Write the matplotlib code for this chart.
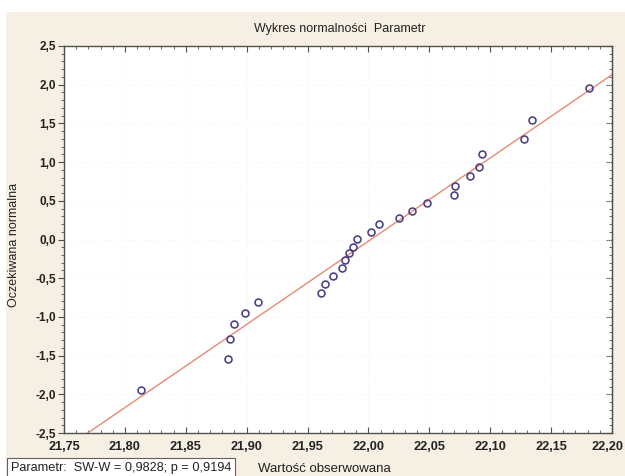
import matplotlib.pyplot as plt
import matplotlib.patches as patches
from matplotlib.ticker import MultipleLocator, FuncFormatter
import numpy as np

plt.rcParams['font.family'] = ['Liberation Sans', 'DejaVu Sans']

# observed values and expected normal values
observed = [21.813, 21.885, 21.886, 21.890, 21.899, 21.909, 21.961, 21.964,
            21.971, 21.978, 21.981, 21.984, 21.987, 21.991, 22.002, 22.009,
            22.025, 22.036, 22.048, 22.070, 22.071, 22.083, 22.091, 22.093,
            22.128, 22.134, 22.181]
expected = [-1.944, -1.540, -1.289, -1.088, -0.946, -0.808, -0.687, -0.579,
            -0.472, -0.372, -0.265, -0.171, -0.093, 0.003, 0.101, 0.200,
            0.282, 0.368, 0.475, 0.571, 0.691, 0.820, 0.941, 1.105,
            1.295, 1.544, 1.961]

# reference normal line
mean = 22.002
sd = 0.093
line_x = [21.75, 22.20]
x_min, x_max = 21.75, 22.20

title = "Wykres normalności  Parametr"
ylabel = "Oczekiwana normalna"
xlabel = "Wartość obserwowana"
stats_text = "Parametr:  SW-W = 0,9828; p = 0,9194"

bg = '#f6efe3'


def comma(v, decimals):
    return f"{v:.{decimals}f}".replace('.', ',')


fig = plt.figure(figsize=(6.25, 4.76), dpi=100, facecolor='white')
fig.patches.append(patches.Rectangle((6 / 625, 0), 1, 1 - 12 / 476,
                                     transform=fig.transFigure,
                                     facecolor=bg, edgecolor='none', zorder=-10))

ax = fig.add_axes([64 / 625, 1 - 433 / 476, 548 / 625, 387 / 476])
ax.set_facecolor('white')

lx = np.array(line_x)
ax.plot(lx, (lx - mean) / sd, color='#e58a72', lw=1.0, zorder=2)
ax.plot(observed, expected, 'o', mfc='none', mec='#4a3f80', ms=5.0, mew=1.15,
        zorder=3)

ax.set_xlim(x_min, x_max)
ax.set_ylim(-2.5, 2.5)
ax.xaxis.set_major_locator(MultipleLocator(0.05))
ax.xaxis.set_minor_locator(MultipleLocator(0.01))
ax.yaxis.set_major_locator(MultipleLocator(0.5))
ax.yaxis.set_minor_locator(MultipleLocator(0.1))
# last x label is drawn separately so it stays inside the figure
ax.xaxis.set_major_formatter(FuncFormatter(
    lambda v, p: '' if abs(v - x_max) < 1e-6 else comma(v, 2)))
ax.yaxis.set_major_formatter(FuncFormatter(lambda v, p: comma(v, 1)))

ax.grid(True, which='major', color='#f2f2f2', lw=0.6, ls=':')

for s in ax.spines.values():
    s.set_color('#505050')
    s.set_linewidth(1.0)

ax.tick_params(axis='x', which='both', direction='in', top=True, bottom=True,
               colors='#505050', labelcolor='#222222', labelsize=9.2, pad=6)
ax.tick_params(axis='x', which='major', length=4)
ax.tick_params(axis='x', which='minor', length=2)
ax.tick_params(axis='y', which='both', direction='out', left=True,
               colors='#505050', labelcolor='#222222', labelsize=8.5, pad=2)
ax.tick_params(axis='y', which='major', length=4)
ax.tick_params(axis='y', which='minor', length=2)

fig.canvas.draw()
for lab in ax.get_xticklabels() + ax.get_yticklabels():
    lab.set_fontweight('bold')

ax.annotate(comma(x_max, 2), xy=(x_max, 0), xycoords=('data', 'axes fraction'),
            xytext=(-3, -6), textcoords='offset points', ha='center', va='top',
            fontsize=9.2, fontweight='bold', color='#222222', annotation_clip=False)

# right side ticks pointing inward
ax_r = ax.secondary_yaxis('right')
ax_r.yaxis.set_major_locator(MultipleLocator(0.5))
ax_r.yaxis.set_minor_locator(MultipleLocator(0.1))
ax_r.tick_params(which='both', direction='in', labelright=False, colors='#505050')
ax_r.tick_params(which='major', length=4)
ax_r.tick_params(which='minor', length=2)
ax_r.spines['right'].set_color('#505050')

fig.text(340 / 625, 1 - 29 / 476, title, ha='center', va='center',
         fontsize=9, color='#222222')
fig.text(14 / 625, 1 - 245 / 476, ylabel, ha='center', va='center',
         rotation=90, fontsize=9, color='#222222')
fig.text(258 / 625, 1 - 469 / 476, xlabel, ha='left', va='center',
         fontsize=9.5, color='#222222')
fig.text(11 / 625, 1 - 468 / 476, stats_text, ha='left', va='center',
         fontsize=9.2, color='#222222',
         bbox=dict(boxstyle='square,pad=0.3', facecolor='white',
                   edgecolor='#606060', lw=0.8))

plt.savefig("out.png", dpi=100, facecolor=fig.get_facecolor())
